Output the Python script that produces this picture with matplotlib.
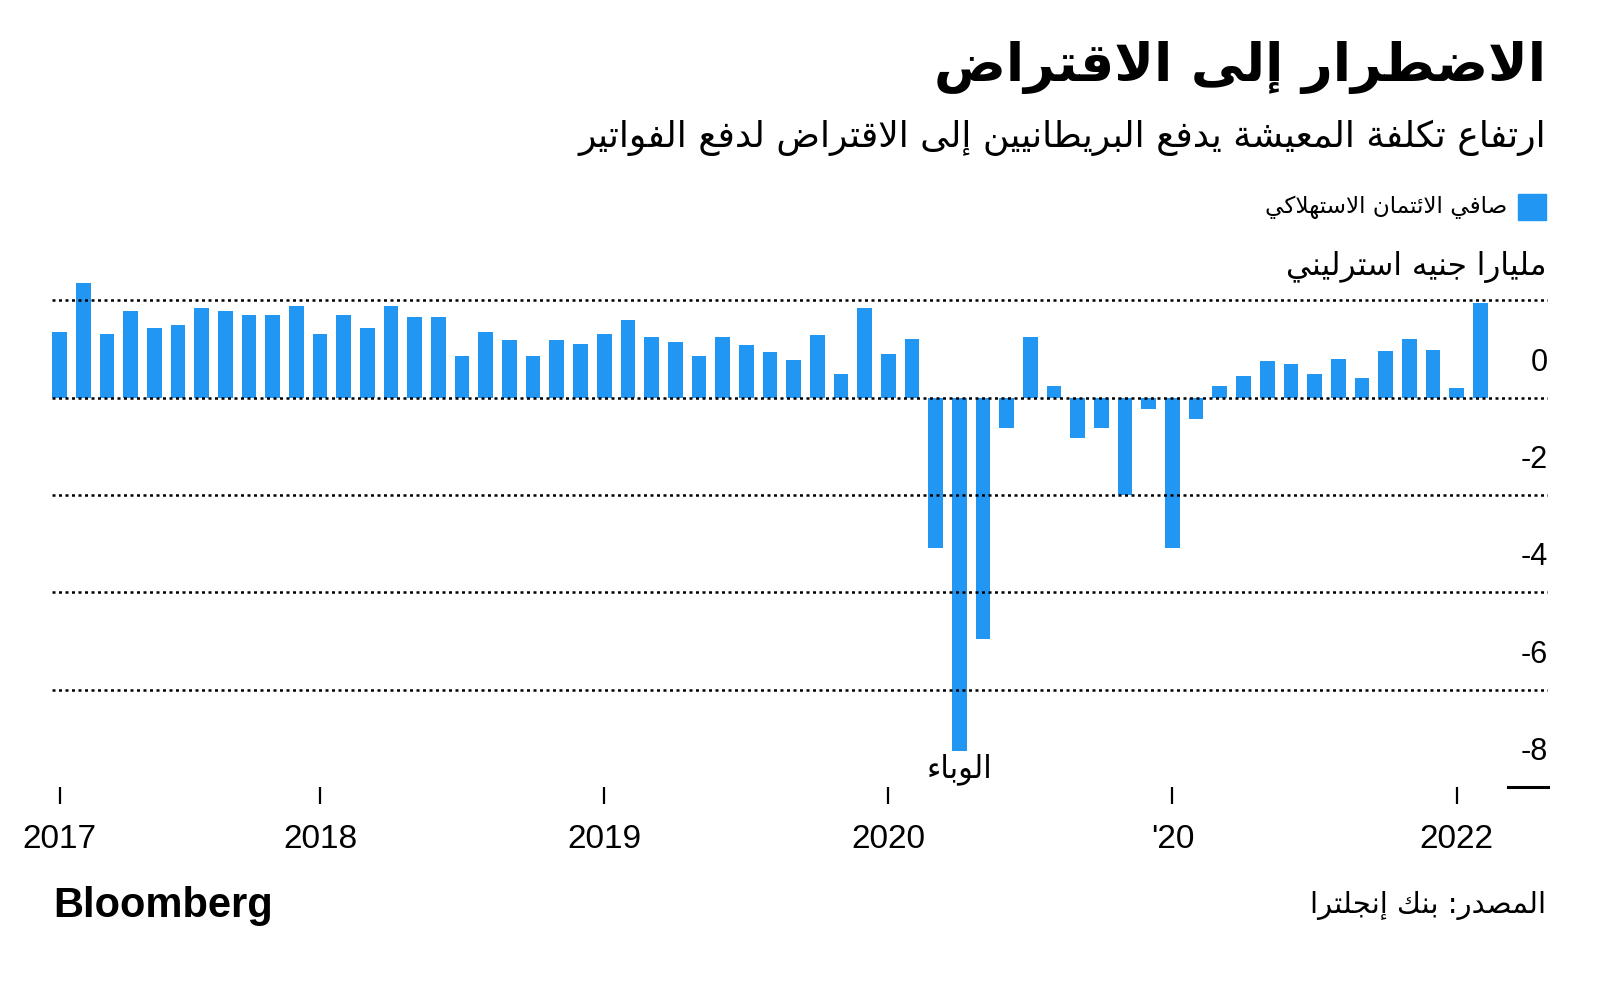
import numpy as np
import matplotlib
matplotlib.use("Agg")
import matplotlib.pyplot as plt
from matplotlib.patches import Rectangle

# --- data: net consumer credit, bn GBP, monthly ---
values = [1.35, 2.36, 1.31, 1.79, 1.44, 1.50, 1.84, 1.79, 1.70, 1.70,
          1.89, 1.31, 1.70, 1.44, 1.89, 1.65, 1.65, 0.85, 1.35, 1.18,
          0.85, 1.18, 1.10, 1.31, 1.60, 1.24, 1.15, 0.85, 1.25, 1.08,
          0.94, 0.78, 1.29, 0.49, 1.84, 0.89, 1.20, -3.08, -7.26, -4.96,
          -0.63, 1.24, 0.24, -0.83, -0.63, -2.00, -0.23, -3.08, -0.43, 0.23,
          0.44, 0.76, 0.69, 0.49, 0.80, 0.40, 0.95, 1.20, 0.98, 0.19,
          1.95]
tick_pos = [0, 11, 23, 35, 47, 59]
tick_labels = ["2017", "2018", "2019", "2020", "'20", "2022"]
y_ticks = [0, -2, -4, -6, -8]
grid_levels = [2, 0, -2, -4, -6]

title = "الاضطرار إلى الاقتراض"
subtitle = "ارتفاع تكلفة المعيشة يدفع البريطانيين إلى الاقتراض لدفع الفواتير"
legend_txt = "صافي الائتمان الاستهلاكي"
unit_txt = "مليارا جنيه استرليني"
source_txt = "المصدر: بنك إنجلترا"
note_txt = "الوباء"
note_idx = 38

BLUE = "#2196F3"

# --- tiny arabic shaper (matplotlib has no RTL / joining) ---
DUAL = {'ئ': 0xFE89, 'ب': 0xFE8F, 'ت': 0xFE95, 'ث': 0xFE99, 'ج': 0xFE9D,
        'ح': 0xFEA1, 'خ': 0xFEA5, 'س': 0xFEB1, 'ش': 0xFEB5, 'ص': 0xFEB9,
        'ض': 0xFEBD, 'ط': 0xFEC1, 'ظ': 0xFEC5, 'ع': 0xFEC9, 'غ': 0xFECD,
        'ف': 0xFED1, 'ق': 0xFED5, 'ك': 0xFED9, 'ل': 0xFEDD, 'م': 0xFEE1,
        'ن': 0xFEE5, 'ه': 0xFEE9, 'ي': 0xFEF1}
RIGHT = {'آ': 0xFE81, 'أ': 0xFE83, 'ؤ': 0xFE85, 'إ': 0xFE87, 'ا': 0xFE8D,
         'ة': 0xFE93, 'د': 0xFEA9, 'ذ': 0xFEAB, 'ر': 0xFEAD, 'ز': 0xFEAF,
         'و': 0xFEED, 'ى': 0xFEEF}
LAMALEF = {'ا': 0xFEFB, 'أ': 0xFEF7, 'إ': 0xFEF9, 'آ': 0xFEF5}


def ar(s):
    units = []
    i = 0
    while i < len(s):
        c = s[i]
        if c == 'ل' and i + 1 < len(s) and s[i + 1] in LAMALEF:
            units.append(('L', LAMALEF[s[i + 1]]))
            i += 2
            continue
        if c in DUAL:
            units.append(('D', DUAL[c]))
        elif c in RIGHT:
            units.append(('R', RIGHT[c]))
        elif c == 'ء':
            units.append(('N', 0xFE80))
        else:
            units.append(('X', c))
        i += 1
    out = []
    for k, (kind, v) in enumerate(units):
        if kind == 'X':
            out.append(v)
            continue
        prev = units[k - 1][0] if k > 0 else None
        nxt = units[k + 1][0] if k + 1 < len(units) else None
        jp = prev == 'D' and kind != 'N'
        jn = kind == 'D' and nxt in ('D', 'R', 'L')
        if kind == 'D':
            off = 3 if (jp and jn) else 1 if jp else 2 if jn else 0
        elif kind in ('R', 'L'):
            off = 1 if jp else 0
        else:
            off = 0
        out.append(chr(v + off))
    return ''.join(out)[::-1]


AR = ['DejaVu Sans']
NUM = ['Liberation Sans', 'DejaVu Sans']

fig = plt.figure(figsize=(16, 9.83), dpi=100)
W, H = 1600, 983


def fx(px):
    return px / W


def fy(py):
    return 1 - py / H


# axes: y=-8 at 787px, y=2.5 at 276px ; x from -0.32 to 62.86
ax = fig.add_axes([fx(52), fy(787), fx(1548) - fx(52), fy(276) - fy(787)])
x = np.arange(len(values))
ax.bar(x, values, width=0.62, color=BLUE, zorder=2)
ax.set_xlim(-0.32, 62.86)
ax.set_ylim(-8, 2.5)

for g in grid_levels:
    ax.axhline(g, color="black", lw=1.8, ls=(0, (1.2, 1.4)), zorder=3)
ax.plot([0.973, 1.0], [0, 0], transform=ax.transAxes, color="black",
        lw=2.2, clip_on=False)

for s in ax.spines.values():
    s.set_visible(False)
ax.set_yticks([])
ax.set_xticks(tick_pos)
ax.set_xticklabels(tick_labels, family=NUM, fontsize=24)
ax.tick_params(axis="x", length=12, width=1.6, color="black", pad=15)

for v in y_ticks:
    ax.text(1.0, v + 0.72, str(v), transform=ax.get_yaxis_transform(),
            ha="right", va="center", family=NUM, fontsize=22)

ax.text(note_idx, values[note_idx] - 0.38, ar(note_txt), ha="center",
        va="center", family=AR, fontsize=22)

# header
fig.text(fx(1546), fy(68), ar(title), ha="right", va="center",
         family=AR, fontsize=38.5, fontweight="bold")
fig.text(fx(1546), fy(138), ar(subtitle), ha="right", va="center",
         family=AR, fontsize=26)
fig.add_artist(Rectangle((fx(1518), fy(220)), fx(28), 26 / H,
                         transform=fig.transFigure, color=BLUE))
fig.text(fx(1507), fy(207), ar(legend_txt), ha="right", va="center",
         family=AR, fontsize=16.7)
fig.text(fx(1546), fy(267), ar(unit_txt), ha="right", va="center",
         family=AR, fontsize=22.4)

# footer
fig.text(fx(53), fy(906), "Bloomberg", ha="left", va="center",
         family=NUM, fontsize=30, fontweight="bold")
fig.text(fx(1546), fy(906), ar(source_txt), ha="right", va="center",
         family=AR, fontsize=21)

fig.savefig("out.png", dpi=100, facecolor="white")
